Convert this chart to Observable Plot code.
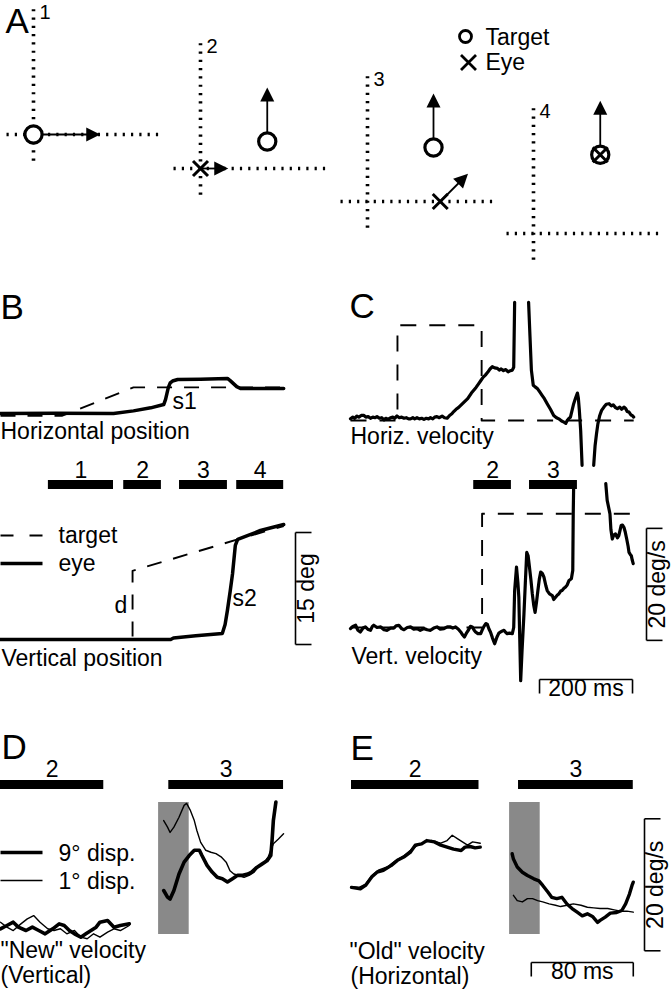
<!DOCTYPE html>
<html><head><meta charset="utf-8">
<script src="https://cdn.jsdelivr.net/npm/d3@7"></script>
<script src="https://cdn.jsdelivr.net/npm/@observablehq/plot@0.6"></script>
<style>html,body{margin:0;padding:0;background:#fff}#chart{width:672px;height:992px}</style>
</head><body><div id="chart"></div>
<script>
// ======================= DATA =======================
// Panel A: schematic positions (deg, relative to fixation cross), velocity vectors (deg-equivalent)
const frameLabels = ["1", "2", "3", "4"];
const targetPos = [[0, 0], [8.9, 3.6], [8.8, 7.2], [8.9, 10.5]];
const eyePos = [null, [0, 0], [9.7, 0], [8.9, 10.5]];
const targetVel = [[8.9, 0], [0, 7.2], [0, 7.2], [0, 7.2]];
const eyeVel = [null, [3.7, 0], [3.7, 3.7], null];
const legendA = ["Target", "Eye"];

// Panel B: position traces [ms, deg]
const bHorizTarget = [[0, -0.3], [133, -0.3], [286, 3.5], [609, 3.5]];
const bHorizEye = [[0, 0], [120, 0.05], [243, 0], [286, 0.35], [323, 0.76], [351, 1.2], [355, 1.9], [358, 2.7], [361, 3.5], [365, 4.1], [370, 4.35], [381, 4.55], [430, 4.6], [488, 4.7], [494, 4.4], [501, 4.0], [508, 3.6], [516, 3.35], [609, 3.35]];
const bVertTarget = [[0, 0], [284, 0], [284, 9.2], [510, 13.4], [609, 15.2]];
const bVertEye = [[0, 0], [366, 0], [372, 0.2], [420, 0.5], [477, 0.8], [483, 2.0], [488, 3.9], [494, 6.5], [499, 8.8], [505, 12.6], [510, 13.4], [531, 13.9], [559, 14.6], [609, 15.4]];
const epochs = [{label: "1", t0: 103, t1: 243}, {label: "2", t0: 265, t1: 346}, {label: "3", t0: 385, t1: 488}, {label: "4", t0: 508, t1: 609}];

// Panel C: velocity traces [ms, deg/s]; null = trace off the panel
const cHorizTarget = [[0, 0], [101, 0], [101, 17], [282, 17], [282, 0], [609, 0]];
const cHorizEye = [[0,0.3],[5,0.6],[9,0.4],[14,0.8],[18,0.6],[23,0.9],[29,0.9],[33,0.6],[38,0.7],[43,0.4],[48,0.6],[53,0.5],[57,0.7],[62,0.4],[67,0.5],[72,0.1],[76,0.4],[81,0.2],[86,0.5],[91,0.6],[95,0.4],[100,0.8],[105,0.5],[110,0.6],[115,0.4],[120,0.5],[125,0.3],[129,0.3],[134,0.5],[138,0.3],[143,0.5],[148,0.3],[153,0.4],[158,0.2],[163,0.4],[168,0.3],[172,0.5],[177,0.3],[181,0.6],[186,0.7],[191,0.5],[197,0.8],[202,0.5],[208,0.4],[213,0.9],[218,1.2],[222,1.6],[227,2.0],[232,2.3],[237,2.7],[242,3.1],[247,3.5],[252,3.9],[256,4.4],[260,4.9],[265,5.4],[270,5.9],[275,6.5],[280,7.1],[285,7.7],[290,8.1],[295,8.6],[300,9.2],[305,9.6],[310,9.4],[316,9.3],[320,9.0],[324,9.2],[329,8.9],[334,9.1],[339,8.7],[344,8.9],[348,9.0],[351,9.5],[353,21.1],[368,null],[383,21.1],[386,15],[389,9],[393,6.3],[397,6.0],[402,5.7],[407,5.1],[412,4.5],[417,3.9],[423,3.0],[430,2.0],[437,0.9],[443,0.5],[448,0.3],[454,-0.1],[459,-0.3],[463,-0.5],[466,0],[470,0.4],[473,0.6],[477,2.0],[480,3.0],[484,4.0],[488,4.9],[490,4.0],[492,2.0],[495,-1.8],[498,-8.0],[510,null],[523,-8.0],[526,-4.5],[529,-2.4],[532,-0.6],[536,0.9],[540,1.8],[545,2.4],[550,2.9],[556,3.0],[561,2.6],[565,2.8],[570,2.3],[574,2.1],[579,2.4],[583,2.0],[588,2.4],[592,2.1],[595,1.6],[599,1.5],[603,1.0],[606,0.9],[609,0.6]];
const cVertTarget = [[0, 0], [283, 0], [283, 20.3], [606, 20.3]];
const cVertEye = [[0,-0.2],[5,0.2],[11,0.4],[16,-0.5],[21,-0.8],[27,-0.1],[32,0.1],[37,-0.3],[43,-0.5],[47,0.2],[50,0.4],[57,0.0],[65,0.1],[72,-0.4],[79,-0.5],[86,-0.1],[93,-0.1],[98,0.3],[104,0.4],[110,-0.2],[115,-0.4],[122,0.0],[129,0.1],[136,-0.3],[143,-0.2],[150,-0.5],[158,-0.2],[165,-0.4],[172,-0.5],[179,-0.1],[186,0.1],[193,-0.3],[201,-0.2],[208,0.1],[215,0.1],[220,-0.1],[226,0.1],[232,-0.3],[237,-0.8],[241,-1.3],[245,-1.7],[250,-0.9],[254,-0.4],[258,0.2],[262,0.1],[266,-0.5],[269,-0.8],[274,-1.1],[280,-1.1],[284,-0.3],[287,0.2],[291,0.7],[294,0.6],[298,-0.3],[301,-0.8],[305,-1.8],[310,-2.9],[315,-1.7],[319,-1.0],[323,-0.8],[327,-0.6],[330,-0.5],[334,-0.9],[337,-1.1],[342,-1.0],[348,-1.1],[351,0],[353,6.6],[357,10.8],[360,8.0],[362,5.4],[364,-2],[366,-9.5],[369,-4],[373,2.4],[376,8],[379,13.4],[382,12.8],[384,11.4],[388,8.5],[391,6.0],[394,4.0],[397,2.7],[400,4.5],[403,6.6],[406,8.6],[409,9.9],[413,9.6],[416,9.0],[420,7.5],[423,6.6],[428,6.0],[434,5.7],[437,5.0],[441,5.4],[445,5.8],[448,6.0],[452,6.5],[455,6.6],[459,7.0],[462,7.2],[466,7.6],[470,8.4],[475,8.7],[478,10.2],[479,20.3],[480,25.7],[515,null],[549,25.7],[552,22.7],[558,20.3],[560,17.5],[563,15.8],[566,16.5],[570,16.7],[574,16.0],[577,16.4],[582,18.2],[585,18.3],[588,17.9],[591,17.0],[594,15.8],[597,14.5],[599,13.4],[602,13.0],[604,12.8],[606,12.0],[608,11.4]];

// Panels D & E: aligned velocity traces [ms, deg/s]
const grayWindow = [124, 148];
const epochsD = [{label: "2", t0: 0, t1: 81}, {label: "3", t0: 132, t1: 222}];
const epochsE = [{label: "2", t0: 0, t1: 100}, {label: "3", t0: 131, t1: 221}];
const dispLegend = [{label: "9° disp.", width: 3.6}, {label: "1° disp.", width: 1.4}];
const dLeftThick = [[0,-0.5],[5,0],[10,0.5],[14,-0.25],[20,-0.76],[25,-0.25],[30,-0.76],[35,-1.26],[41,-0.5],[46,0.25],[50,0],[54,-0.76],[58,-1.26],[63,-1.77],[67,-1.26],[71,-0.76],[75,-0.25],[78,0.5],[84,0.76],[89,-0.25],[94,0],[101,0.25]];
const dLeftThin = [[0,0.5],[5,-0.25],[10,-0.76],[16,0.25],[21,1.0],[26,1.5],[31,0.5],[37,-0.5],[42,-0.76],[47,-0.5],[52,-1.26],[58,-0.76],[63,-1.77],[68,-2.0],[73,-1.26],[78,-1.77],[84,-1.0],[89,-0.5],[94,-0.76],[101,0]];
const dRightThick = [[128,5.3],[131,4.3],[133,4.0],[136,5.3],[140,7.8],[144,9.6],[148,10.6],[152,11.4],[156,11.4],[158,10.6],[162,9.1],[166,8.1],[170,7.3],[174,7.1],[178,6.6],[182,7.1],[186,7.6],[190,7.6],[194,7.8],[197,8.1],[201,8.8],[205,9.3],[209,9.8],[212,10.6],[213,12.9],[214,15.9],[216,18.7]];
const dRightThin = [[128,15.9],[131,14.9],[133,14.1],[136,14.9],[140,16.4],[144,18.2],[146,18.5],[149,17.4],[152,15.9],[154,14.4],[157,12.6],[161,11.4],[165,11.1],[169,10.9],[173,10.4],[177,9.6],[180,8.3],[183,7.8],[187,7.6],[191,7.3],[195,7.6],[199,8.1],[203,9.1],[207,9.6],[210,10.4],[214,12.4],[218,13.1],[222,13.9]];
const eLeftThick = [[0,3.8],[7,3.6],[11,4.1],[16,5.4],[20,6.1],[25,6.4],[31,7.1],[36,7.9],[41,8.4],[46,9.1],[50,10.2],[55,10.4],[59,10.9],[65,10.7],[70,10.2],[75,9.9],[80,9.6],[86,9.4],[89,9.9],[93,10.0],[97,9.8],[101,9.9]];
const eLeftThin = [[0,3.9],[6,3.8],[11,4.3],[16,5.6],[21,6.4],[28,6.9],[35,7.9],[41,8.6],[46,9.4],[52,10.2],[58,10.7],[63,10.9],[70,10.5],[75,10.9],[79,11.7],[83,11.2],[87,10.7],[91,10.2],[95,10.7],[101,10.5]];
const eRightThick = [[126,8.9],[127,8.1],[130,6.9],[134,6.1],[138,5.6],[143,5.1],[147,4.8],[150,4.1],[154,3.1],[157,2.3],[161,2.1],[165,2.3],[169,1.3],[173,0.6],[177,0.05],[181,-0.5],[185,-0.2],[189,-0.6],[193,-1.5],[195,-1.2],[199,-0.7],[203,-0.1],[208,0],[212,0.3],[215,1.3],[218,2.8],[220,4.1],[221,4.6]];
const eRightThin = [[127,2.6],[130,1.8],[134,1.6],[138,2.1],[142,2.1],[146,1.8],[150,1.6],[155,1.3],[160,1.1],[164,0.9],[169,1.1],[174,1.3],[180,1.1],[185,0.8],[190,0.7],[195,0.6],[201,0.6],[206,0.4],[211,0.2],[216,0.2],[221,0.05]];

// Scale bars (data units)
const scaleBars = [
  {panel: "B", dir: "v", from: -0.67, len: 15, label: "15 deg"},
  {panel: "Cv", dir: "v", from: -2.3, len: 20, label: "20 deg/s"},
  {panel: "C", dir: "h", from: 406.5, len: 200, label: "200 ms"},
  {panel: "Ev", dir: "v", from: -5.8, len: 20, label: "20 deg/s"},
  {panel: "Eh", dir: "h", from: 141, len: 80, label: "80 ms"}
];

// ======================= LAYOUT =======================
const W = 672, H = 992, FS = 23, FONT = "'Liberation Sans', Arial, Helvetica, sans-serif";
const S = {msBC: 93 / 200, deg: 112 / 15, dpsC: 112 / 20, msDE: 102 / 80, dpsDE: 132 / 20};
const X = {B: t => t * S.msBC, C: t => 350 + t * S.msBC, D: t => t * S.msDE, E: t => 351 + t * S.msDE};
const Y = {Bh: p => 413 - p * S.deg, Bv: p => 639 - p * S.deg, Ch: v => 420 - v * S.dpsC, Cv: v => 627 - v * S.dpsC, D: v => 925 - v * S.dpsDE, E: v => 912 - v * S.dpsDE};
const A_ORIGINS = [[33, 134], [200, 168], [367, 201], [533, 233]], A_PX = 7.5;
const ax = (i, d) => A_ORIGINS[i][0] + d * A_PX;
const ay = (i, d) => A_ORIGINS[i][1] - d * A_PX;

const pts = (arr, fx, fy) => arr.map(([t, v]) => ({x: fx(t), y: v == null ? NaN : fy(v)}));
const trace = (arr, fx, fy, o) => Plot.line(pts(arr, fx, fy), {x: "x", y: "y", stroke: "black", strokeLinejoin: "round", strokeLinecap: "round", ...o});
const txt = (data, o) => Plot.text(data, {fontSize: FS, lineAnchor: "bottom", textAnchor: "start", fill: "black", ...o});

function headSymbol(deg) {
  const a = deg * Math.PI / 180, c = Math.cos(a), s = Math.sin(a);
  const p = [[0, 0], [-7, 14], [7, 14]].map(([x, y]) => [x * c - y * s, x * s + y * c]);
  return {draw(ctx) { ctx.moveTo(p[0][0], p[0][1]); ctx.lineTo(p[1][0], p[1][1]); ctx.lineTo(p[2][0], p[2][1]); ctx.closePath(); }};
}
const crossSymbol = h => ({draw(ctx) { ctx.moveTo(-h, -h); ctx.lineTo(h, h); ctx.moveTo(-h, h); ctx.lineTo(h, -h); }});

// ---------- Panel A marks ----------
const marksA = [];
const dotted = {stroke: "black", strokeWidth: 3.6, strokeDasharray: "2.2,6.1", strokeLinecap: "butt"};
marksA.push(Plot.link(frameLabels.map((l, i) => ({x1: ax(i, -3.6), x2: ax(i, 17), y1: ay(i, 0), y2: ay(i, 0)})), {x1: "x1", x2: "x2", y1: "y1", y2: "y2", ...dotted}));
marksA.push(Plot.link(frameLabels.map((l, i) => ({x1: ax(i, 0), x2: ax(i, 0), y1: ay(i, -3.5), y2: ay(i, 17)})), {x1: "x1", x2: "x2", y1: "y1", y2: "y2", ...dotted}));
marksA.push(txt(frameLabels.map((l, i) => ({x: ax(i, 0) + 6, y: ay(i, 17) + 12, l})), {x: "x", y: "y", text: "l", fontSize: 20}));
const arrows = [];
frameLabels.forEach((l, i) => {
  if (targetVel[i]) arrows.push({x1: ax(i, targetPos[i][0]), y1: ay(i, targetPos[i][1]), x2: ax(i, targetPos[i][0] + targetVel[i][0]), y2: ay(i, targetPos[i][1] + targetVel[i][1]), ang: Math.atan2(targetVel[i][0], targetVel[i][1]) * 180 / Math.PI});
  if (eyeVel[i]) arrows.push({x1: ax(i, eyePos[i][0]), y1: ay(i, eyePos[i][1]), x2: ax(i, eyePos[i][0] + eyeVel[i][0]), y2: ay(i, eyePos[i][1] + eyeVel[i][1]), ang: Math.atan2(eyeVel[i][0], eyeVel[i][1]) * 180 / Math.PI});
});
marksA.push(Plot.link(arrows, {x1: "x1", y1: "y1", x2: d => d.x2 - 6 * Math.sin(d.ang * Math.PI / 180), y2: d => d.y2 + 6 * Math.cos(d.ang * Math.PI / 180), stroke: "black", strokeWidth: 1.8}));
marksA.push(Plot.dot(targetPos.map((p, i) => ({x: ax(i, p[0]), y: ay(i, p[1])})), {x: "x", y: "y", r: 8.6, fill: "white", stroke: "black", strokeWidth: 3.2}));
marksA.push(Plot.dot(eyePos.map((p, i) => p && ({x: ax(i, p[0]), y: ay(i, p[1])})).filter(Boolean), {x: "x", y: "y", r: 5, symbol: crossSymbol(7.5), fill: "none", stroke: "black", strokeWidth: 3}));
arrows.forEach(a => marksA.push(Plot.dot([a], {x: "x2", y: "y2", r: 5, symbol: headSymbol(a.ang), fill: "black", stroke: "none"})));
// legend A
marksA.push(Plot.dot([{x: 465, y: 36}], {x: "x", y: "y", r: 6, fill: "white", stroke: "black", strokeWidth: 2.8}));
marksA.push(Plot.dot([{x: 468, y: 62}], {x: "x", y: "y", r: 5, symbol: crossSymbol(7.5), fill: "none", stroke: "black", strokeWidth: 2.8}));
marksA.push(txt(legendA.map((l, i) => ({l, x: 485, y: 44 + i * 25})), {x: "x", y: "y", text: "l"}));

// ---------- Panel B marks ----------
const dashB = {strokeWidth: 1.9, strokeDasharray: "15,12", strokeLinecap: "butt"};
const marksB = [
  trace(bHorizTarget, X.B, Y.Bh, dashB),
  trace(bHorizEye, X.B, Y.Bh, {strokeWidth: 3.5}),
  trace(bVertTarget, X.B, Y.Bv, dashB),
  trace(bVertEye, X.B, Y.Bv, {strokeWidth: 3.5}),
  txt([{l: "s1", x: 172, y: 408}, {l: "d", x: 114, y: 612}, {l: "s2", x: 232, y: 605}, {l: "Horizontal position", x: 0, y: 438}, {l: "Vertical position", x: 1, y: 665}, {l: "target", x: 58, y: 542}, {l: "eye", x: 58, y: 570}], {x: "x", y: "y", text: "l"}),
  Plot.link([{x1: 0, x2: 42, y: 535}], {x1: "x1", x2: "x2", y1: "y", y2: "y", stroke: "black", strokeWidth: 1.9, strokeDasharray: "13,16"}),
  Plot.link([{x1: 0, x2: 42, y: 563}], {x1: "x1", x2: "x2", y1: "y", y2: "y", stroke: "black", strokeWidth: 3.5}),
  Plot.rect(epochs, {x1: d => X.B(d.t0), x2: d => X.B(d.t1), y1: 480, y2: 489, fill: "black"}),
  Plot.text(epochs, {x: d => (X.B(d.t0) + X.B(d.t1)) / 2, y: 477, text: "label", fontSize: FS, lineAnchor: "bottom"})
];

// ---------- Panel C marks ----------
const dashC = {strokeWidth: 1.9, strokeDasharray: "16,13", strokeLinecap: "butt"};
const epochsC = epochs.filter(e => e.label === "2" || e.label === "3");
const marksC = [
  trace(cHorizTarget, X.C, Y.Ch, dashC),
  trace(cVertTarget, X.C, Y.Cv, dashC),
  trace(cHorizEye, X.C, Y.Ch, {strokeWidth: 3.2}),
  trace(cVertEye, X.C, Y.Cv, {strokeWidth: 3.2}),
  Plot.rect(epochsC, {x1: d => X.C(d.t0), x2: d => X.C(d.t1), y1: 480, y2: 489, fill: "black"}),
  Plot.text(epochsC, {x: d => (X.C(d.t0) + X.C(d.t1)) / 2, y: 477, text: "label", fontSize: FS, lineAnchor: "bottom"}),
  txt([{l: "Horiz. velocity", x: 350, y: 443}, {l: "Vert. velocity", x: 351, y: 663}], {x: "x", y: "y", text: "l"})
];

// ---------- Panels D & E marks ----------
const marksDE = [
  Plot.rect([{x1: X.D(grayWindow[0]), x2: X.D(grayWindow[1])}, {x1: X.E(grayWindow[0]), x2: X.E(grayWindow[1])}], {x1: "x1", x2: "x2", y1: 802, y2: 934, fill: "#898989"}),
  trace(dLeftThin, X.D, Y.D, {strokeWidth: 1.4}),
  trace(dLeftThick, X.D, Y.D, {strokeWidth: 3.6}),
  trace(dRightThin, X.D, Y.D, {strokeWidth: 1.4}),
  trace(dRightThick, X.D, Y.D, {strokeWidth: 3.6}),
  trace(eLeftThin, X.E, Y.E, {strokeWidth: 1.4}),
  trace(eLeftThick, X.E, Y.E, {strokeWidth: 3.4}),
  trace(eRightThin, X.E, Y.E, {strokeWidth: 1.4}),
  trace(eRightThick, X.E, Y.E, {strokeWidth: 3.4}),
  Plot.rect(epochsD, {x1: d => X.D(d.t0), x2: d => X.D(d.t1), y1: 780, y2: 789, fill: "black"}),
  Plot.text(epochsD, {x: d => (X.D(d.t0) + X.D(d.t1)) / 2, y: 776, text: "label", fontSize: FS, lineAnchor: "bottom"}),
  Plot.rect(epochsE, {x1: d => X.E(d.t0), x2: d => X.E(d.t1), y1: 780, y2: 789, fill: "black"}),
  Plot.text(epochsE, {x: d => (X.E(d.t0) + X.E(d.t1)) / 2, y: 776, text: "label", fontSize: FS, lineAnchor: "bottom"}),
  Plot.link(dispLegend.map((d, i) => ({x1: 0, x2: 42, y: 852 + i * 28, w: d.width})), {x1: "x1", x2: "x2", y1: "y", y2: "y", stroke: "black", strokeWidth: d => d.w}),
  txt(dispLegend.map((d, i) => ({l: d.label, x: 58, y: 860 + i * 28})), {x: "x", y: "y", text: "l"}),
  txt([{l: "\"New\" velocity", x: 0, y: 957}, {l: "(Vertical)", x: 0, y: 982}, {l: "\"Old\" velocity", x: 349, y: 958}, {l: "(Horizontal)", x: 350, y: 983}], {x: "x", y: "y", text: "l"})
];

// ---------- Scale bars ----------
const barPos = {B: {x: 295, f: Y.Bv}, Cv: {x: 646, f: Y.Cv}, C: {y: 679, f: X.C}, Ev: {x: 644, f: Y.E}, Eh: {y: 962, f: X.E}};
const segs = [], sbText = [];
scaleBars.forEach(b => {
  const p = barPos[b.panel];
  if (b.dir === "v") {
    const y0 = p.f(b.from), y1 = p.f(b.from + b.len);
    segs.push({x1: p.x, y1: y0, x2: p.x, y2: y1}, {x1: p.x, y1: y0, x2: p.x + 16, y2: y0}, {x1: p.x, y1: y1, x2: p.x + 16, y2: y1});
    sbText.push({l: b.label, x: p.x + 18.5, y: (y0 + y1) / 2, rot: -90});
  } else {
    const x0 = p.f(b.from), x1 = p.f(b.from + b.len);
    segs.push({x1: x0, y1: p.y, x2: x1, y2: p.y}, {x1: x0, y1: p.y, x2: x0, y2: p.y + 14}, {x1: x1, y1: p.y, x2: x1, y2: p.y + 14});
    sbText.push({l: b.label, x: (x0 + x1) / 2, y: p.y + 16, rot: 0});
  }
});
const marksSB = [
  Plot.link(segs, {x1: "x1", y1: "y1", x2: "x2", y2: "y2", stroke: "black", strokeWidth: 1.6}),
  Plot.text(sbText.filter(d => d.rot === -90), {x: "x", y: "y", text: "l", rotate: -90, fontSize: FS, lineAnchor: "bottom", textAnchor: "middle"}),
  Plot.text(sbText.filter(d => d.rot === 0), {x: "x", y: "y", text: "l", fontSize: FS, lineAnchor: "bottom", textAnchor: "middle"})
];

// ---------- Panel letters ----------
const letters = [{l: "A", x: 5, y: 32}, {l: "B", x: 0, y: 318}, {l: "C", x: 349, y: 317}, {l: "D", x: 1, y: 758}, {l: "E", x: 350, y: 759}];
const marksL = [txt(letters, {x: "x", y: "y", text: "l", fontSize: 35})];

const chart = Plot.plot({
  width: W, height: H, margin: 0,
  x: {domain: [0, W], range: [0, W], axis: null},
  y: {domain: [0, H], range: [0, H], axis: null},
  style: {background: "white", fontFamily: FONT, overflow: "visible"},
  marks: [...marksDE, ...marksA, ...marksB, ...marksC, ...marksSB, ...marksL]
});
document.getElementById("chart").append(chart);
</script>
</body></html>
